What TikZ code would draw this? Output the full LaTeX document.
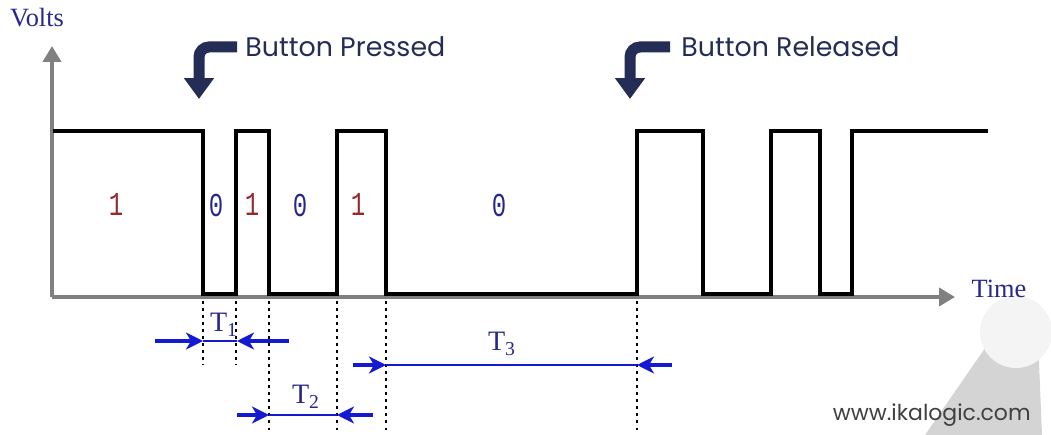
\documentclass[tikz,border=0pt]{standalone}
\usepackage{fontspec}
\setmainfont{Liberation Serif}
\newfontfamily\gothic{Poppins}
\newfontfamily\digits[FakeStretch=0.72]{Liberation Mono}
\usetikzlibrary{arrows.meta, calc}
\definecolor{axisgray}{RGB}{128, 128, 128}
\definecolor{navy}{RGB}{35, 45, 85}
\definecolor{dimblue}{RGB}{20, 25, 210}
\definecolor{lblblue}{RGB}{40, 40, 140}
\definecolor{lblred}{RGB}{150, 40, 45}
\definecolor{markgray}{RGB}{212, 212, 212}
\definecolor{marklight}{RGB}{244, 244, 244}

\begin{document}
\begin{tikzpicture}[x=0.02cm, y=-0.02cm,
        axis/.style={axisgray, line width=2.2pt, -{Triangle[width=0.36cm, length=0.32cm]}},
        signal/.style={black, line width=1.9pt},
        guide/.style={black, line width=1.4pt, dash pattern=on 1.5pt off 2.5pt},
        dimtail/.style={dimblue, line width=2pt, -{Stealth[width=0.34cm, length=0.34cm, inset=0.1cm]}},
        dimline/.style={dimblue, line width=0.9pt},
        eventarrow/.style={navy, line width=0.22cm, rounded corners=0.2cm, -{Triangle[width=0.58cm, length=0.42cm]}},
        event/.style={font=\gothic\fontsize{15.3}{18}\selectfont, text=navy, anchor=west, inner sep=0pt},
        axlbl/.style={font=\fontsize{15}{18}\selectfont, text=lblblue, inner sep=0pt},
        bitone/.style={font=\digits\fontsize{19}{22}\selectfont, text=lblred, inner sep=0pt},
        bitzero/.style={font=\digits\fontsize{19}{22}\selectfont, text=lblblue, inner sep=0pt},
        dimlbl/.style={font=\fontsize{16}{18}\selectfont, text=lblblue, inner sep=0pt}
      ]
        \useasboundingbox (0,0) rectangle (1051,435);
        % watermark
        \fill[markgray] (992,338) -- (1038,338) -- (1042,435) -- (925,435) -- cycle;
        \fill[marklight] (1016,332) circle (36);
        \node[font=\gothic\fontsize{12.5}{14}\selectfont, text=black!75, anchor=east, inner sep=0pt] (site) at (1031,415) {www.ikalogic.com};
        % axes
        \coordinate (origin) at (52,297);
        \coordinate (ytip) at (52,46);
        \coordinate (xtip) at (955,297);
        \draw[axis] (origin) -- (ytip);
        \draw[axis] (origin) -- (xtip);
        \node[axlbl] (volts) at (37,18) {Volts};
        \node[axlbl] (time) at (999,289) {Time};
        % the bouncing signal
        \draw[signal] (53,131) -- (203,131) -- (203,294) -- (236,294) -- (236,131) -- (269,131) -- (269,294)
          -- (337,294) -- (337,131) -- (386,131) -- (386,294) -- (637,294) -- (637,131) -- (703,131)
          -- (703,294) -- (771,294) -- (771,131) -- (820,131) -- (820,294) -- (852,294) -- (852,131) -- (988,131);
        \foreach \x/\b in {116/1, 252/1, 358/1} { \node[bitone] at (\x,205) {\b}; }
        \foreach \x/\b in {216/0, 300/0, 499/0} { \node[bitzero] at (\x,205) {\b}; }
        % button events
        \node[event] (pressed) at (245,47) {Button Pressed};
        \node[event] (released) at (681,47) {Button Released};
        \coordinate (ptip) at (199,99);
        \coordinate (rtip) at (630,99);
        \draw[eventarrow] ([xshift=-0.16cm]pressed.west) -| (ptip);
        \draw[eventarrow] ([xshift=-0.22cm]released.west) -| (rtip);
        % guides below the edges
        \foreach \x/\e in {203/365, 236/365, 269/432, 337/432, 386/432, 637/432} {
          \draw[guide] (\x,301) -- (\x,\e);
        }
        % T1
        \coordinate (t1a) at (203,341);
        \coordinate (t1b) at (237,341);
        \draw[dimtail] (155,341) -- (t1a);
        \draw[dimtail] (289,341) -- (t1b);
        \draw[dimline] (t1a) -- (t1b);
        \node[dimlbl] (t1) at (224,325) {T\textsubscript{1}};
        % T2
        \coordinate (t2a) at (269,415);
        \coordinate (t2b) at (337,415);
        \draw[dimtail] (237,415) -- (t2a);
        \draw[dimtail] (373,415) -- (t2b);
        \draw[dimline] (t2a) -- (t2b);
        \node[dimlbl] (t2) at (306,397) {T\textsubscript{2}};
        % T3
        \coordinate (t3a) at (386,365);
        \coordinate (t3b) at (637,365);
        \draw[dimtail] (353,365) -- (t3a);
        \draw[dimtail] (672,365) -- (t3b);
        \draw[dimline] (t3a) -- (t3b);
        \node[dimlbl] (t3) at (502,344) {T\textsubscript{3}};
      \end{tikzpicture}
\end{document}
